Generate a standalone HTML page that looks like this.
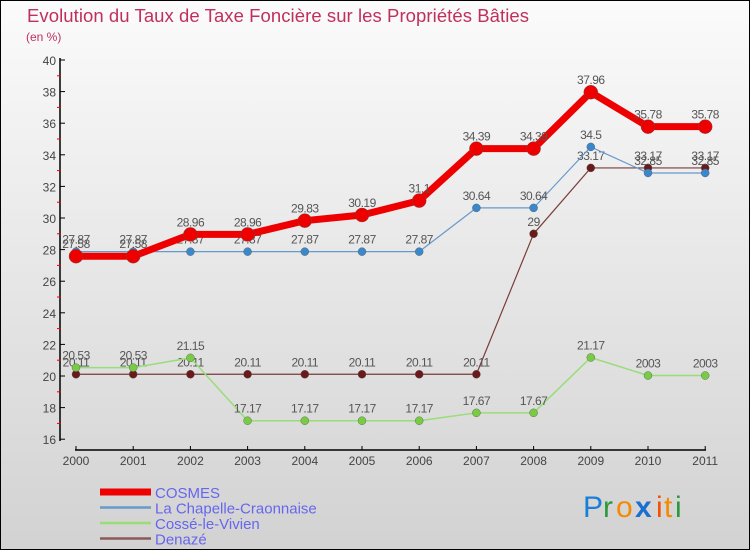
<!DOCTYPE html>
<html><head><meta charset="utf-8"><style>
html,body{margin:0;padding:0}
body{width:750px;height:550px;overflow:hidden;font-family:"Liberation Sans",sans-serif}
</style></head><body>
<svg id="chart" width="750" height="550" xmlns="http://www.w3.org/2000/svg">
<defs><linearGradient id="bg" x1="0" y1="0" x2="0" y2="1"><stop offset="0" stop-color="#fbfbfb"/><stop offset="1" stop-color="#d2d2d2"/></linearGradient></defs>
<rect x="0.5" y="0.5" width="749" height="549" fill="url(#bg)" stroke="#000"/>
<text x="27" y="22" font-size="18.5" fill="#c0305c" textLength="502">Evolution du Taux de Taxe Foncière sur les Propriétés Bâties</text>
<text x="26" y="41" font-size="12" fill="#c0305c">(en %)</text>
<g id="axes"></g><g id="series"></g><g id="legend"></g>
<g font-size="30" font-family="'Liberation Sans',sans-serif">
<text x="583" y="517" fill="#1a7fd6">P</text><text x="603" y="517" fill="#2a9a3a">r</text><text x="616" y="517" fill="#f58a00">o</text><text x="635" y="517" fill="#1a6fd0" font-weight="bold">x</text><text x="656" y="517" fill="#f55000">i</text><text x="664" y="517" fill="#f58a00">t</text><text x="675" y="517" fill="#2a9a3a">i</text>
</g>
</svg>
<script>
const years=[2000,2001,2002,2003,2004,2005,2006,2007,2008,2009,2010,2011];
const yTicks=[16,18,20,22,24,26,28,30,32,34,36,38,40];
const seriesNames=["COSMES","La Chapelle-Craonnaise","Cossé-le-Vivien","Denazé"];
const cosmes=[27.58,27.58,28.96,28.96,29.83,30.19,31.1,34.39,34.39,37.96,35.78,35.78];
const chapelle=[27.87,27.87,27.87,27.87,27.87,27.87,27.87,30.64,30.64,34.5,32.85,32.85];
const cosse=[20.53,20.53,21.15,17.17,17.17,17.17,17.17,17.67,17.67,21.17,20.03,20.03];
const denaze=[20.11,20.11,20.11,20.11,20.11,20.11,20.11,20.11,29,33.17,33.17,33.17];
const NS="http://www.w3.org/2000/svg";
const x=i=>76+i*57.2;
const y=v=>60+(40-v)*15.8;
function mk(tag,attrs,parent){const e=document.createElementNS(NS,tag);for(const k in attrs)e.setAttribute(k,attrs[k]);parent.appendChild(e);return e;}
const ax=document.getElementById('axes');
let l=mk('line',{x1:60,y1:58,x2:60,y2:441,stroke:'#000','stroke-width':1.5},ax);


yTicks.forEach(v=>{
 mk('line',{x1:60,y1:y(v),x2:65,y2:y(v),stroke:'#000'},ax);
 if(v<40) mk('line',{x1:57,y1:y(v+1),x2:61,y2:y(v+1),stroke:'#e00'},ax);
 const t=mk('text',{x:56,y:y(v)+5,'text-anchor':'end','font-size':12,fill:'#444'},ax);t.textContent=v;
 
 
});
l=mk('line',{x1:75,y1:450,x2:706,y2:450,stroke:'#000','stroke-width':1.5},ax);


years.forEach((yr,i)=>{
 mk('line',{x1:x(i),y1:446,x2:x(i),y2:450,stroke:'#000'},ax);
 const t=mk('text',{x:x(i),y:465,'text-anchor':'middle','font-size':12,fill:'#444'},ax);t.textContent=yr;
 
 
});
const sg=document.getElementById('series');
const defs=[[denaze,'#7a3b3b','#6a1a1a',1.2,4],[cosse,'#99dd77','#77cc44',1.5,4],[chapelle,'#6699cc','#3a88cc',1.2,4],[cosmes,'#ee0000','#ee0000',7,7]];
const names=["denaze","cosse","chapelle","cosmes"];
defs.forEach(([data,lc,pc,w,r],si)=>{
 const g=mk('g',{},sg);
 
 
 mk('polyline',{points:data.map((v,i)=>x(i)+','+y(v)).join(' '),fill:'none',stroke:lc,'stroke-width':w,'stroke-linejoin':'round'},g);
 data.forEach((v,i)=>{
  const c=mk('circle',{cx:x(i),cy:y(v),r:r,fill:pc,stroke:'#555','stroke-width':0.4},g);
  
  
  const t=mk('text',{x:x(i),y:y(v)-8,'text-anchor':'middle','font-size':12,fill:'#555','letter-spacing':'-0.5'},g);
  t.textContent=String(v).replace('20.03','2003');
  
  
 });
});
const lg=document.getElementById('legend');
const lcols=['#ee0000','#6699cc','#99dd77','#8a5a5a'];const lw=[7,2.5,2.5,2.5];
seriesNames.forEach((n,i)=>{
 const yy=492+i*15.5;
 const g=mk('g',{},lg);
 
 
 mk('line',{x1:100,y1:yy,x2:151,y2:yy,stroke:lcols[i],'stroke-width':lw[i]},g);
 const t=mk('text',{x:155,y:yy+6,'font-size':15,fill:'#6666ee'},g);t.textContent=n;
});
</script>
</body></html>
